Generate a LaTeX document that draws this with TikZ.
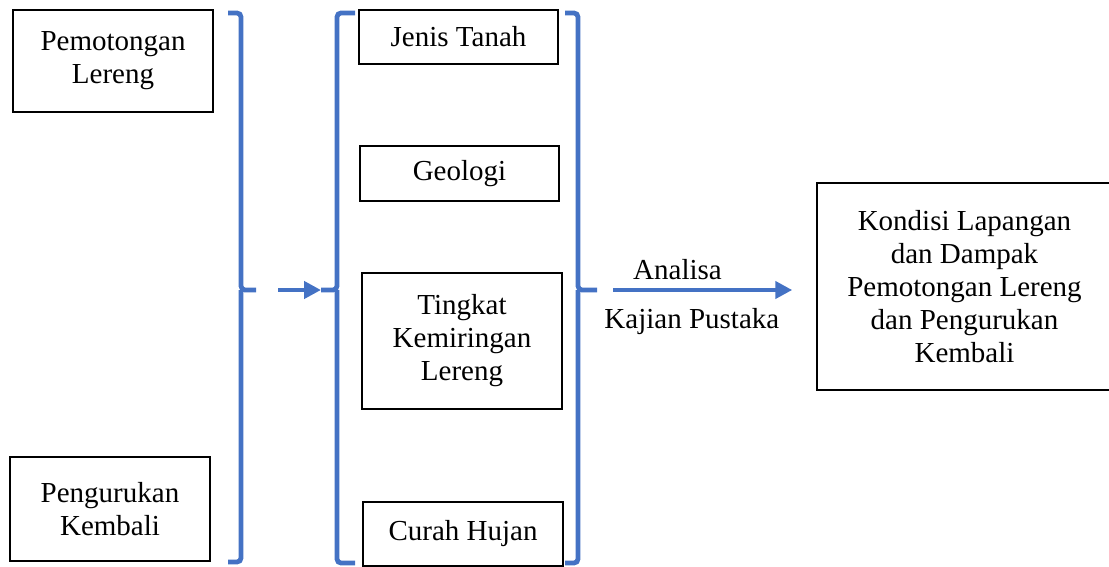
\documentclass[tikz,border=0pt]{standalone}
\usepackage{fontspec}
\setmainfont{Liberation Serif}
\usepackage{xcolor}
\usepackage{tikz}
\usetikzlibrary{arrows.meta, positioning, calc}

\definecolor{wordblue}{HTML}{4472C4}

\begin{document}
\begin{tikzpicture}[
    x=0.5pt, y=-0.5pt,
    box/.style={draw, line width=0.75pt, align=center, inner sep=0pt, font=\fontsize{14.5}{16.5}\selectfont},
    lbl/.style={text=black, font=\fontsize{14.5}{16.5}\selectfont},
    brk/.style={wordblue, line width=2.4pt, rounded corners=2pt},
    arr/.style={wordblue, line width=2.2pt, -{Triangle[length=8.5pt, width=8.5pt]}},
]
\useasboundingbox (0,0) rectangle (1109,567);

\node[box, minimum width=100pt, minimum height=51pt] (potong) at (113, 61) {Pemotongan\\Lereng};
\node[box, minimum width=100pt, minimum height=52pt] (uruk) at (110, 509) {Pengurukan\\Kembali};

\node[box, minimum width=99.5pt, minimum height=27pt] (tanah) at (458.5, 37) {Jenis Tanah};
\node[box, minimum width=99.5pt, minimum height=27.5pt] (geologi) at (459.5, 173.5) {Geologi};
\node[box, minimum width=100pt, minimum height=68pt] (miring) at (462, 341) {Tingkat\\Kemiringan\\Lereng};
\node[box, minimum width=100pt, minimum height=32pt] (hujan) at (463, 534) {Curah Hujan};

\node[box, minimum width=147.5pt, minimum height=103.5pt] (kondisi) at (964.5, 286.5) {Kondisi Lapangan\\dan Dampak\\Pemotongan Lereng\\dan Pengurukan\\Kembali};

% brackets
\coordinate (lspike) at (256, 290);
\coordinate (mspike) at (321, 290);
\coordinate (rspike) at (597, 290);
\draw[brk] (228, 13) -- (241, 13) -- (241, 290) -- (lspike);
\draw[brk] (241, 290) -- (241, 562) -- (228, 562);
\draw[brk] (355, 13) -- (337, 13) -- (337, 290) -- (mspike);
\draw[brk] (337, 290) -- (337, 563) -- (355, 563);
\draw[brk] (565, 13) -- (578, 13) -- (578, 290) -- (rspike);
\draw[brk] (578, 290) -- (578, 563) -- (565, 563);

\coordinate (analisa) at (613, 290);
\coordinate (hasil) at ($(kondisi.west |- analisa)+(-24,0)$);

\draw[arr, dash pattern=on 0pt off 11pt on 40pt] (lspike) -- (mspike);
\draw[arr] (analisa) -- node[lbl, pos=0.36, yshift=10pt] {Analisa}
    node[lbl, pos=0.44, yshift=-15.75pt] {Kajian Pustaka} (hasil);

\end{tikzpicture}
\end{document}
